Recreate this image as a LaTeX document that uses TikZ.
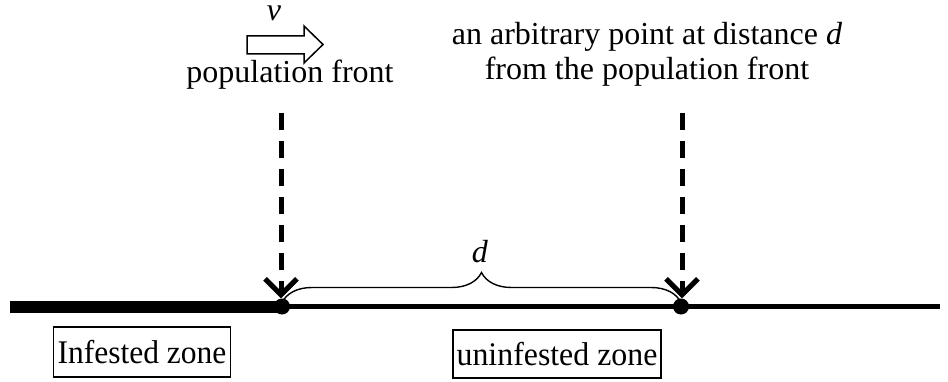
\documentclass[tikz,border=0pt]{standalone}
\usepackage{fontspec}
\setmainfont{Liberation Serif}
\usetikzlibrary{arrows.meta,decorations.pathreplacing}
\tikzset{
  lbl/.style={inner sep=0pt,font=\fontsize{32}{35}\selectfont},
  zonebox/.style={draw,line width=1.8pt,inner sep=0pt,font=\fontsize{33}{36}\selectfont},
  dashedarrow/.style={line width=5pt,dash pattern=on 17pt off 11pt,
    -{Straight Barb[length=16pt,width=32pt,line width=5pt]}},
  dotnode/.style={circle,fill=black,inner sep=0pt,minimum size=16pt},
}
\begin{document}
\begin{tikzpicture}[x=1pt,y=1pt]
\useasboundingbox (0,0) rectangle (948,381);
% main line
\node[dotnode] (dotL) at (282,74.5) {};
\node[dotnode] (dotR) at (681,74.5) {};
\coordinate (lineL) at (10,74.5);
\coordinate (lineR) at (940,74.5);
\draw[line width=12pt] (lineL) -- (dotL.center);
\draw[line width=5pt] (dotL.center) -- (dotR.center) -- (lineR);
% velocity arrow
\draw[line width=1.5pt,fill=white] (247,327) -- (304,327) -- (304,318) -- (323,336.5)
  -- (304,355) -- (304,345) -- (247,345) -- cycle;
\node[lbl,anchor=base] (v) at (274,360) {\textit{v}};
\node[lbl,anchor=base] (pf) at (290,298) {population front};
\node[lbl,anchor=base,align=center] (ap) at (647,301)
  {an arbitrary point at distance \textit{d}\\from the population front};
% dashed arrows
\coordinate (topL) at (281,268);
\coordinate (topR) at (682,268);
\draw[dashedarrow] (topL) -- (topL |- dotL.north);
\draw[dashedarrow] (topR) -- (topR |- dotR.north);
% brace
\draw[line width=1.4pt,decorate,decoration={brace,amplitude=30pt}]
  ([yshift=4pt]dotL.center) -- ([yshift=4pt]dotR.center);
\node[lbl,anchor=base] (d) at (480,119) {\textit{d}};
% zone boxes
\node[zonebox,minimum width=177pt,minimum height=50pt] (inf) at (142,29)
  {\scalebox{0.955}[1]{Infested zone}};
\node[zonebox,minimum width=208pt,minimum height=48pt] (uninf) at (557,27)
  {\scalebox{0.965}[1]{uninfested zone}};
\end{tikzpicture}
\end{document}
